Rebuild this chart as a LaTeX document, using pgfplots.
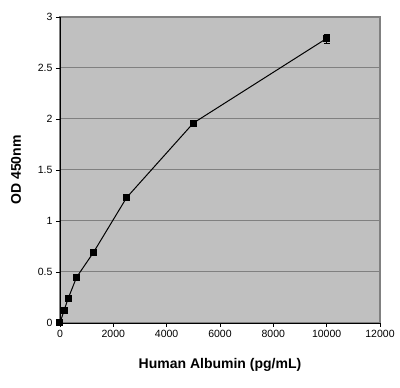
\documentclass[border=0pt]{standalone}
\usepackage{pgfplots}
\pgfplotsset{compat=1.18}
\usepackage{fontspec}
\setmainfont{Liberation Sans}
\definecolor{bg}{RGB}{192,192,192}
\definecolor{gr}{RGB}{128,128,128}
\begin{document}
\begin{tikzpicture}[x=1pt,y=1pt]
\path[use as bounding box] (-60,-65) rectangle (340,323);
\begin{axis}[
  at={(0,0)}, anchor=south west,
  scale only axis, width=320pt, height=306pt,
  xmin=0, xmax=12000, ymin=0, ymax=3,
  xtick={0,2000,...,12000}, ytick={0,0.5,...,3},
  scaled x ticks=false,
  /pgf/number format/assume math mode=true,
  /pgf/number format/1000 sep={},
  tick label style={font=\fontsize{10.5}{12}\selectfont},
  axis background/.style={fill=bg, draw=gr, line width=1.2pt},
  axis line style={black, line width=0.8pt},
  axis x line*=bottom, axis y line*=left,
  tick align=outside, tick style={black, thin},
  major tick length=4pt,
  ymajorgrids, grid style={gr, line width=1pt},
  xlabel={\bfseries Human Albumin (pg/mL)},
  ylabel={\bfseries OD 450nm},
  label style={font=\fontsize{14}{16}\selectfont\bfseries},
  xlabel style={yshift=-14pt},
  ylabel style={yshift=10pt},
]
\addplot[black, line width=1pt, mark=square*, mark size=3pt,
  error bars/.cd, y dir=both, y explicit, error mark options={rotate=90, mark size=3pt}]
  coordinates {
  (0,0) +- (0,0)
  (156,0.127) +- (0,0)
  (312,0.245) +- (0,0)
  (625,0.45) +- (0,0)
  (1250,0.69) +- (0,0)
  (2500,1.23) +- (0,0)
  (5000,1.96) +- (0,0.02)
  (10000,2.79) +- (0,0.045)
  };
\end{axis}
\end{tikzpicture}
\end{document}
